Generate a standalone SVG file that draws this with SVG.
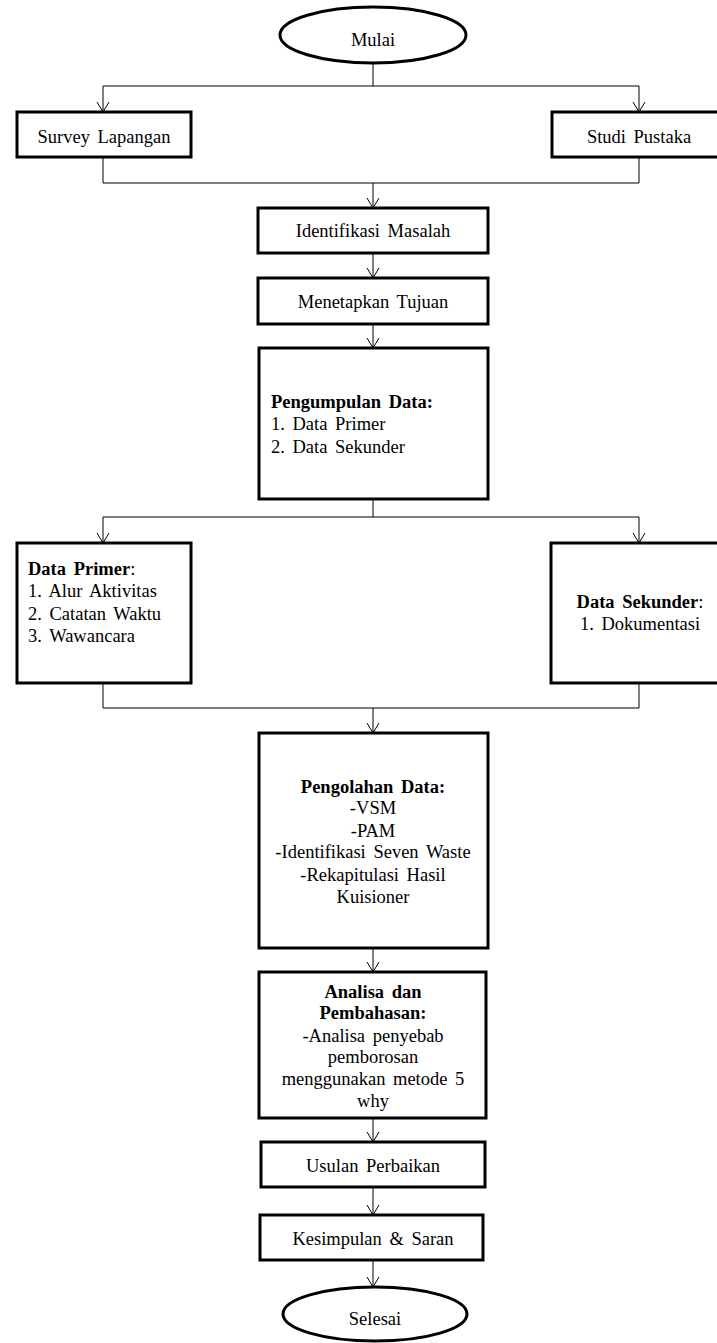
<svg xmlns="http://www.w3.org/2000/svg" width="717" height="1343" viewBox="0 0 717 1343">
<style>
.box{fill:#fff;stroke:#000;stroke-width:3}
.term{fill:#fff;stroke:#000;stroke-width:3}
.con{fill:none;stroke:#000;stroke-width:1}
text{font-family:"Liberation Serif","Times New Roman",serif;font-size:18.5px;fill:#000;word-spacing:3px}
.c{text-anchor:middle}
.b{font-weight:bold}
</style>
<defs>
<marker id="arr" viewBox="-1 -7 12 14" refX="10" refY="0" markerWidth="12" markerHeight="14" markerUnits="userSpaceOnUse" orient="auto">
<path d="M0,-6 L10,0 L0,6" fill="none" stroke="#000" stroke-width="1"/>
</marker>
</defs>
<rect width="717" height="1343" fill="#fff"/>
<g id="connectors" class="con">
<path d="M373,63 V86 M103,86 H639"/>
<path d="M103,86 V112" marker-end="url(#arr)"/>
<path d="M639,86 V112" marker-end="url(#arr)"/>
<path d="M103,157 V183 H639 V157"/>
<path d="M373,183 V208" marker-end="url(#arr)"/>
<path d="M373,253 V278" marker-end="url(#arr)"/>
<path d="M373,324 V348" marker-end="url(#arr)"/>
<path d="M373,499 V517 M103,517 H639"/>
<path d="M103,517 V543" marker-end="url(#arr)"/>
<path d="M639,517 V543" marker-end="url(#arr)"/>
<path d="M103,683 V708 H639 V683"/>
<path d="M373,708 V733" marker-end="url(#arr)"/>
<path d="M373,948 V972" marker-end="url(#arr)"/>
<path d="M373,1118 V1142" marker-end="url(#arr)"/>
<path d="M373,1187 V1215" marker-end="url(#arr)"/>
<path d="M373,1260 V1287" marker-end="url(#arr)"/>
</g>
<g id="mulai">
<ellipse class="term" cx="373" cy="35" rx="93" ry="28"/>
<text class="c" x="373" y="46">Mulai</text>
</g>
<g id="survey">
<rect class="box" x="17" y="112" width="174" height="45"/>
<text class="c" x="104" y="143">Survey Lapangan</text>
</g>
<g id="studi">
<rect class="box" x="552" y="112" width="180" height="45"/>
<text class="c" x="639" y="143">Studi Pustaka</text>
</g>
<g id="identifikasi">
<rect class="box" x="258" y="208" width="230" height="45"/>
<text class="c" x="373" y="237">Identifikasi Masalah</text>
</g>
<g id="menetapkan">
<rect class="box" x="258" y="278" width="230" height="46"/>
<text class="c" x="373" y="308">Menetapkan Tujuan</text>
</g>
<g id="pengumpulan">
<rect class="box" x="259" y="348" width="229" height="151"/>
<text x="271" y="408" class="b">Pengumpulan Data:</text>
<text x="271" y="430">1. Data Primer</text>
<text x="271" y="453">2. Data Sekunder</text>
</g>
<g id="dataprimer">
<rect class="box" x="17" y="543" width="174" height="140"/>
<text x="28" y="575"><tspan class="b">Data Primer</tspan>:</text>
<text x="28" y="597">1. Alur Aktivitas</text>
<text x="28" y="620">2. Catatan Waktu</text>
<text x="28" y="642">3. Wawancara</text>
</g>
<g id="datasekunder">
<rect class="box" x="551" y="543" width="180" height="140"/>
<text class="c" x="640" y="608"><tspan class="b">Data Sekunder</tspan>:</text>
<text class="c" x="640" y="630">1. Dokumentasi</text>
</g>
<g id="pengolahan">
<rect class="box" x="259" y="733" width="229" height="215"/>
<text class="c b" x="373" y="793">Pengolahan Data:</text>
<text class="c" x="373" y="814">-VSM</text>
<text class="c" x="373" y="837">-PAM</text>
<text class="c" x="373" y="858">-Identifikasi Seven Waste</text>
<text class="c" x="373" y="881">-Rekapitulasi Hasil</text>
<text class="c" x="373" y="903">Kuisioner</text>
</g>
<g id="analisa">
<rect class="box" x="259" y="972" width="227" height="146"/>
<text class="c b" x="373" y="998">Analisa dan</text>
<text class="c b" x="373" y="1019">Pembahasan:</text>
<text class="c" x="373" y="1042">-Analisa penyebab</text>
<text class="c" x="373" y="1063">pemborosan</text>
<text class="c" x="373" y="1085">menggunakan metode 5</text>
<text class="c" x="373" y="1107">why</text>
</g>
<g id="usulan">
<rect class="box" x="261" y="1142" width="224" height="45"/>
<text class="c" x="373" y="1172">Usulan Perbaikan</text>
</g>
<g id="kesimpulan">
<rect class="box" x="260" y="1215" width="223" height="45"/>
<text class="c" x="373" y="1245">Kesimpulan &amp; Saran</text>
</g>
<g id="selesai">
<ellipse class="term" cx="375" cy="1314" rx="92" ry="27"/>
<text class="c" x="375" y="1325">Selesai</text>
</g>
</svg>
